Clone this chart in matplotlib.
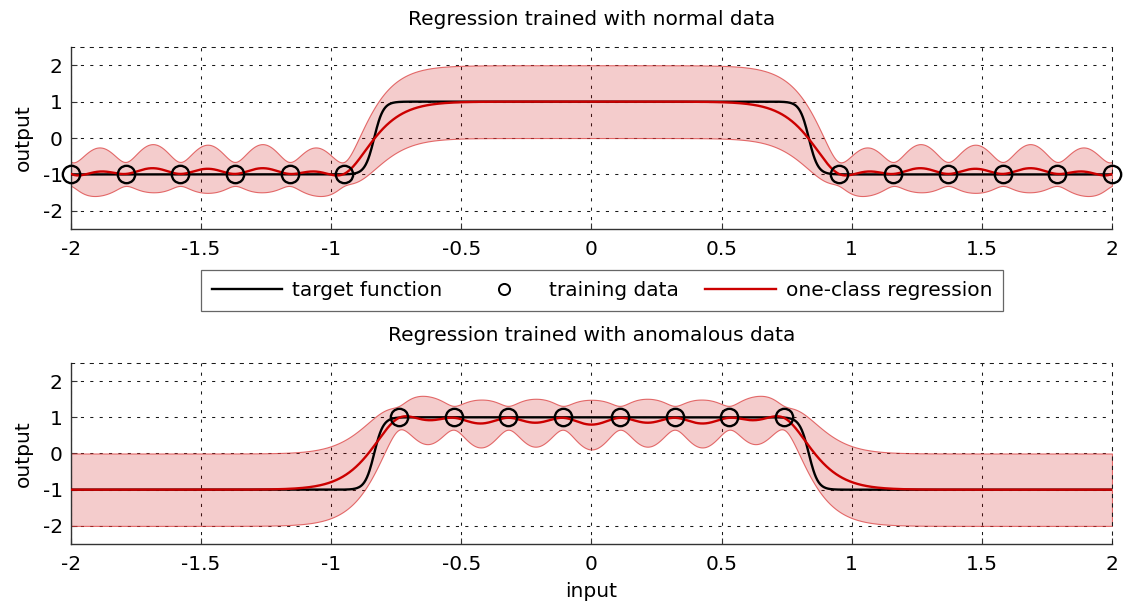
import numpy as np
import matplotlib
matplotlib.use("Agg")
import matplotlib.pyplot as plt
from matplotlib.lines import Line2D

plt.rcParams["font.family"] = ["DejaVu Sans"]

# ---- data -------------------------------------------------------------
# training inputs / outputs for the two experiments
x_train_normal = np.array([-2.0, -1.79, -1.58, -1.37, -1.16, -0.95,
                           0.95, 1.16, 1.37, 1.58, 1.79, 2.0])
y_train_normal = np.array([-1.0] * 12)

x_train_anom = np.array([-0.74, -0.53, -0.32, -0.11, 0.11, 0.32, 0.53, 0.74])
y_train_anom = np.array([1.0] * 8)

# target function: smooth plateau of height +1 on |x| < edge, -1 outside
step_edge = 0.835
step_width = 0.035

# one-class regression model settings
length_scale = 0.124
jitter = 0.01
noise_floor = 0.1

x_min, x_max = -2.0, 2.0
y_min, y_max = -2.5, 2.5
x_ticks = [-2, -1.5, -1, -0.5, 0, 0.5, 1, 1.5, 2]
x_ticklabels = ["-2", "-1.5", "-1", "-0.5", "0", "0.5", "1", "1.5", "2"]
y_ticks = [-2, -1, 0, 1, 2]
y_ticklabels = ["-2", "-1", "0", "1", "2"]

RED = "#cc0000"
FS = 14.5


def target(x):
    return -1 + (np.tanh((x + step_edge) / step_width)
                 - np.tanh((x - step_edge) / step_width))


def matern52(a, b, ell):
    r = np.abs(a[:, None] - b[None, :]) / ell
    s = np.sqrt(5.0) * r
    return (1 + s + s ** 2 / 3.0) * np.exp(-s)


def one_class_fit(xt, yt, xq):
    prior = -np.mean(yt)          # away from data the model predicts the other class
    K = matern52(xt, xt, length_scale) + jitter * np.eye(len(xt))
    Ks = matern52(xq, xt, length_scale)
    mean = prior + Ks @ np.linalg.solve(K, yt - prior)
    v = 1 - np.einsum("ij,ji->i", Ks, np.linalg.solve(K, Ks.T))
    std = np.sqrt(np.clip(v, 0, None) * (1 - noise_floor) + noise_floor)
    return mean, std


xs = np.linspace(x_min, x_max, 1601)

fig = plt.figure(figsize=(11.23, 6.07), dpi=100)
ax_top = fig.add_axes([0.0632, 0.6227, 0.927, 0.2998])
ax_bot = fig.add_axes([0.0632, 0.1038, 0.927, 0.2982])


def draw(ax, xt, yt, title):
    mean, std = one_class_fit(xt, yt, xs)
    ax.fill_between(xs, mean - std, mean + std, facecolor=(0.8, 0.0, 0.0, 0.2),
                    edgecolor=(0.85, 0.2, 0.2, 0.7), linewidth=0.8, zorder=2)
    ax.plot(xs, target(xs), color="black", lw=1.7, zorder=3)
    ax.plot(xs, mean, color=RED, lw=1.7, zorder=4)
    ax.plot(xt, yt, linestyle="none", marker="o", markersize=12.5,
            markerfacecolor="none", markeredgecolor="black",
            markeredgewidth=1.7, zorder=5, clip_on=False)

    ax.set_xlim(x_min, x_max)
    ax.set_ylim(y_min, y_max)
    ax.set_xticks(x_ticks)
    ax.set_xticklabels(x_ticklabels)
    ax.set_yticks(y_ticks)
    ax.set_yticklabels(y_ticklabels)
    ax.tick_params(direction="in", length=4, width=0.8, labelsize=FS,
                   color="0.2")
    ax.tick_params(axis="x", pad=8)
    ax.tick_params(axis="y", pad=6)
    ax.grid(True, color="0.1", linestyle=(0, (3, 6)), linewidth=0.75)
    for side in ("left", "bottom"):
        ax.spines[side].set_color("0.2")
        ax.spines[side].set_linewidth(1.0)
    for side in ("top", "right"):
        ax.spines[side].set_color("0.1")
        ax.spines[side].set_linewidth(0.75)
        ax.spines[side].set_linestyle((0, (3, 6)))
    ax.set_ylabel("output", fontsize=FS, labelpad=7)
    ax.set_title(title, fontsize=FS, pad=16)


draw(ax_top, x_train_normal, y_train_normal, "Regression trained with normal data")
draw(ax_bot, x_train_anom, y_train_anom, "Regression trained with anomalous data")
ax_bot.set_xlabel("input", fontsize=FS, labelpad=6)

handles = [
    Line2D([], [], color="black", lw=1.7),
    Line2D([], [], linestyle="none", marker="o", markersize=8,
           markerfacecolor="none", markeredgecolor="black", markeredgewidth=1.4),
    Line2D([], [], color=RED, lw=1.7),
]
labels = ["target function", "training data", "one-class regression"]
leg = fig.legend(handles, labels, loc="center", bbox_to_anchor=(0.536, 0.522),
                 ncol=3, fontsize=FS, frameon=True, fancybox=False,
                 edgecolor="0.25", handlelength=3.5, handletextpad=0.5,
                 columnspacing=1.3, borderpad=0.55)
leg.get_frame().set_linewidth(0.9)

fig.savefig("out.png", dpi=100)
